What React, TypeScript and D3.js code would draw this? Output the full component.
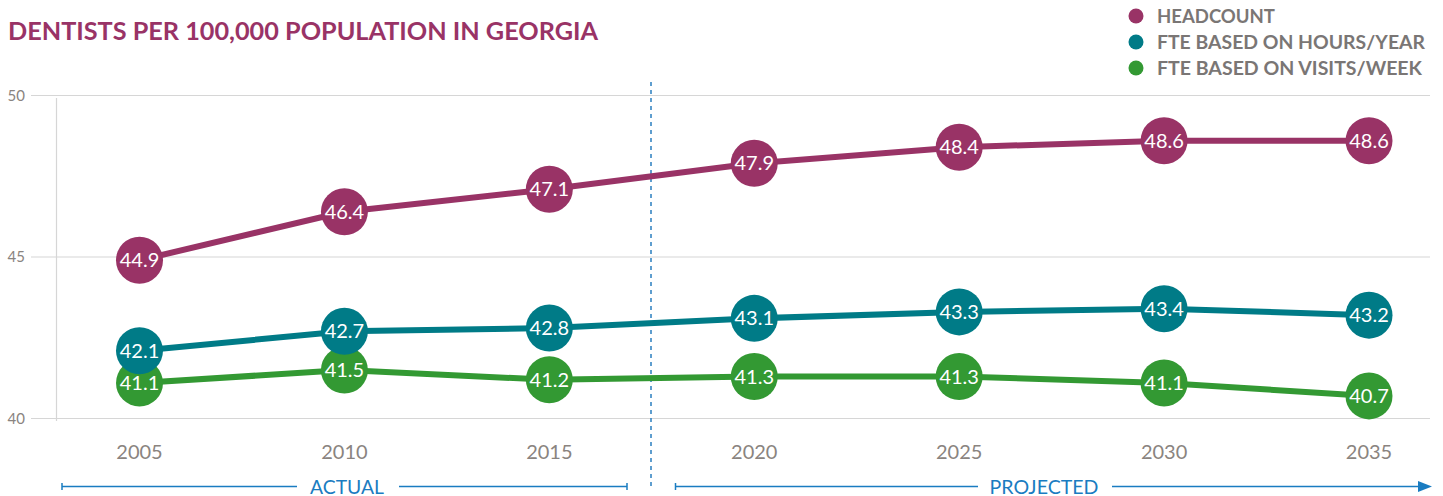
import React from "react";
import * as d3 from "d3";

const years = ["2005", "2010", "2015", "2020", "2025", "2030", "2035"];
const headcount = [44.9, 46.4, 47.1, 47.9, 48.4, 48.6, 48.6];
const fteHours = [42.1, 42.7, 42.8, 43.1, 43.3, 43.4, 43.2];
const fteVisits = [41.1, 41.5, 41.2, 41.3, 41.3, 41.1, 40.7];
const yTicks = [40, 45, 50];
const seriesNames = ["HEADCOUNT", "FTE BASED ON HOURS/YEAR", "FTE BASED ON VISITS/WEEK"];
const legendWidths = [118, 268, 265];
const colors = ["#993366", "#007b87", "#339933"];

const W = 1443;
const H = 496;
const FONT = "Lato, 'Open Sans', sans-serif";

export default function App() {
  const x = d3.scalePoint<string>().domain(years).range([139.5, 1369]);
  const y = d3.scaleLinear().domain([40, 50]).range([418.5, 95.5]);
  const line = d3
    .line<number>()
    .x((_, i) => x(years[i]) as number)
    .y((d) => y(d));
  const series = [headcount, fteHours, fteVisits];
  const drawOrder = [0, 2, 1];

  return (
    <svg
      width={W}
      height={H}
      style={{ position: "absolute", left: 0, top: 0, background: "#fff" }}
      fontFamily={FONT}
    >
      {/* title */}
      <text x={8} y={40} fill="#993366" fontSize={24} fontWeight={700} textLength={590} lengthAdjust="spacingAndGlyphs">
        DENTISTS PER 100,000 POPULATION IN GEORGIA
      </text>

      {/* legend */}
      {seriesNames.map((n, i) => (
        <g key={n} transform={`translate(1136, ${16 + i * 26})`}>
          <circle r={7.5} fill={colors[i]} />
          <text x={21} y={6.5} fontSize={18.5} fontWeight={700} fill="#7a7675" textLength={legendWidths[i]} lengthAdjust="spacingAndGlyphs">
            {n}
          </text>
        </g>
      ))}

      {/* grid */}
      {yTicks.map((t) => (
        <g key={t}>
          <line x1={31} x2={1430} y1={y(t)} y2={y(t)} stroke="#d6d6d6" strokeWidth={1.2} />
          <text x={25} y={y(t) + 5} textAnchor="end" fontSize={15} fill="#8a8480">
            {t}
          </text>
        </g>
      ))}
      <line x1={56.5} x2={56.5} y1={98} y2={421} stroke="#d6d6d6" strokeWidth={1.2} />

      {/* divider */}
      <line x1={651} x2={651} y1={82} y2={490} stroke="#2a7fc0" strokeWidth={1.5} strokeDasharray="4 4" />

      {/* lines */}
      {drawOrder.map((s) => (
        <path key={"l" + s} d={line(series[s]) || ""} fill="none" stroke={colors[s]} strokeWidth={6} />
      ))}

      {/* points */}
      {drawOrder.map((s) => (
        <g key={"p" + s}>
          {series[s].map((v, i) => (
            <g key={i} transform={`translate(${x(years[i])}, ${y(v)})`}>
              <circle r={23.5} fill={colors[s]} />
              <text y={7} textAnchor="middle" fontSize={20} fill="#fff">
                {v.toFixed(1)}
              </text>
            </g>
          ))}
        </g>
      ))}

      {/* x labels */}
      {years.map((yr) => (
        <text key={yr} x={x(yr)} y={459} textAnchor="middle" fontSize={20} fill="#8a8480">
          {yr}
        </text>
      ))}

      {/* actual / projected brackets */}
      <g stroke="#1a7cc1" strokeWidth={1.5}>
        <line x1={62} x2={297} y1={486.5} y2={486.5} />
        <line x1={399} x2={627} y1={486.5} y2={486.5} />
        <line x1={62} x2={62} y1={483} y2={490} />
        <line x1={627} x2={627} y1={483} y2={490} />
        <line x1={675.5} x2={978} y1={486.5} y2={486.5} />
        <line x1={675.5} x2={675.5} y1={483} y2={490} />
        <line x1={1112} x2={1420} y1={486.5} y2={486.5} />
      </g>
      <path d="M1418,481 L1432,486.5 L1418,492 Z" fill="#1a7cc1" />
      <text x={347} y={493.5} textAnchor="middle" fontSize={19} fill="#1a7cc1" textLength={74} lengthAdjust="spacingAndGlyphs">
        ACTUAL
      </text>
      <text x={1044} y={493.5} textAnchor="middle" fontSize={19} fill="#1a7cc1" textLength={109} lengthAdjust="spacingAndGlyphs">
        PROJECTED
      </text>
    </svg>
  );
}
